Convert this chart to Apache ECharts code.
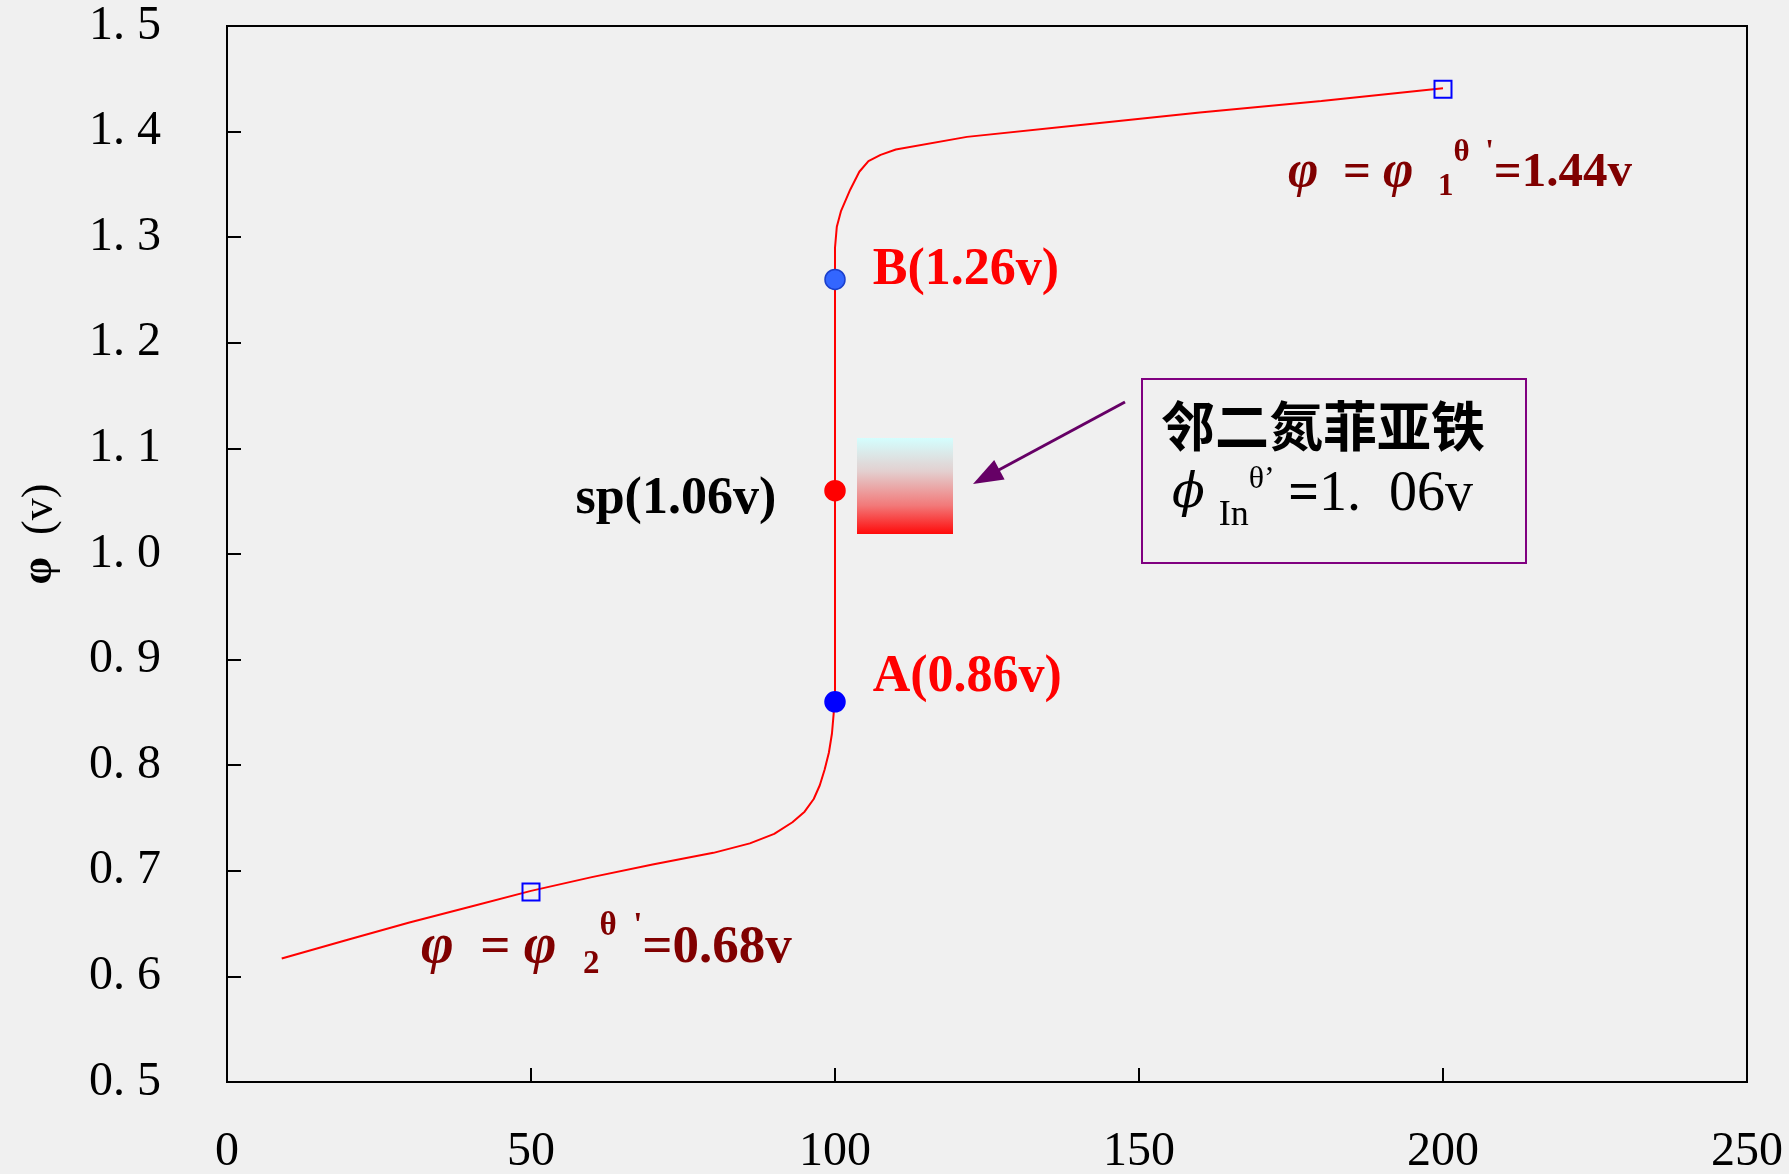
<!DOCTYPE html>
<html>
<head>
<meta charset="utf-8">
<script src="https://cdn.jsdelivr.net/npm/echarts@6/dist/echarts.min.js"></script>
<style>
html,body{margin:0;padding:0;background:#f0f0f0;}
#chart{width:1789px;height:1174px;}
</style>
</head>
<body>
<div id="chart"></div>
<script>
// ---- data ----
const curveX = [9, 20, 30, 40, 50, 60, 70, 80, 86, 90, 93, 95, 96.5, 97.5, 98.3, 99, 99.5, 99.8, 100, 100, 100.3, 101, 102.5, 104, 105.5, 107.5, 110, 121.7, 140, 160, 180, 200];
const curveY = [0.617, 0.635, 0.651, 0.666, 0.681, 0.694, 0.706, 0.717, 0.726, 0.735, 0.746, 0.756, 0.768, 0.781, 0.796, 0.812, 0.830, 0.850, 0.870, 1.290, 1.310, 1.325, 1.345, 1.362, 1.372, 1.378, 1.383, 1.395, 1.406, 1.418, 1.429, 1.441];
const refX = [50, 200];
const refY = [0.68, 1.44];
const keyX = [100, 100, 100];
const keyY = [0.86, 1.06, 1.26];
const keyLabels = ['A(0.86v)', 'sp(1.06v)', 'B(1.26v)'];
const xMin = 0, xMax = 250, xStep = 50;
const yMin = 0.5, yMax = 1.5, yStep = 0.1;

// ---- styles ----
const serif = 'Liberation Serif';
const keyStyles = [
  {color: '#0000ff', border: '#0000ff', pos: 'right', dist: 27, off: [0, -24], txt: '#ff0000'},
  {color: '#ff0000', border: '#ff0000', pos: 'left', dist: 48, off: [0, 9], txt: '#000000'},
  {color: '#3366ff', border: '#1a3fcc', pos: 'right', dist: 27, off: [0, -9], txt: '#ff0000'}
];

const chart = echarts.init(document.getElementById('chart'));

const curveData = curveX.map((x, i) => [x, curveY[i]]);
const refData = refX.map((x, i) => [x, refY[i]]);
const keyData = keyX.map((x, i) => ({
  value: [x, keyY[i]],
  name: keyLabels[i],
  itemStyle: {color: keyStyles[i].color, borderColor: keyStyles[i].border, borderWidth: 1.5, opacity: 1},
  label: {
    show: true,
    formatter: keyLabels[i],
    position: keyStyles[i].pos,
    distance: keyStyles[i].dist,
    offset: keyStyles[i].off,
    color: keyStyles[i].txt,
    opacity: 1,
    fontFamily: serif,
    fontWeight: 'bold',
    fontSize: 52
  }
}));

function mk(size, extra) {
  return Object.assign({fontFamily: serif, fontWeight: 'bold', fontSize: size, fill: '#800000'}, extra || {});
}

const option = {
  backgroundColor: '#f0f0f0',
  animation: false,
  grid: {
    left: 227, top: 26, right: 42, bottom: 92,
    containLabel: false, outerBoundsMode: 'none',
    show: true, borderColor: '#000', borderWidth: 2, backgroundColor: 'transparent'
  },
  xAxis: {
    type: 'value', min: xMin, max: xMax, interval: xStep,
    axisLine: {show: true, onZero: false, lineStyle: {color: '#000', width: 2}},
    axisTick: {show: true, inside: true, length: 14, lineStyle: {color: '#000', width: 2}},
    splitLine: {show: false},
    axisLabel: {color: '#000', fontFamily: serif, fontSize: 48, margin: 46, hideOverlap: false}
  },
  yAxis: {
    type: 'value', min: yMin, max: yMax, interval: yStep,
    name: '{p|φ}{n|  (v)}',
    nameLocation: 'middle',
    nameRotate: 90,
    nameGap: 165,
    nameTextStyle: {
      padding: [0, 0, 0, 40],
      rich: {
        p: {fontFamily: serif, fontWeight: 'bold', fontSize: 44, color: '#000'},
        n: {fontFamily: serif, fontSize: 44, color: '#000'}
      }
    },
    axisLine: {show: true, onZero: false, lineStyle: {color: '#000', width: 2}},
    axisTick: {show: true, inside: true, length: 14, lineStyle: {color: '#000', width: 2}},
    splitLine: {show: false},
    axisLabel: {
      color: '#000', fontFamily: serif, fontSize: 48, margin: 66, hideOverlap: false,
      formatter: v => v.toFixed(1).replace('.', '. ')
    }
  },
  series: [
    {
      type: 'line', data: curveData, showSymbol: false, smooth: false, z: 2,
      lineStyle: {color: '#ff0000', width: 2}
    },
    {
      type: 'scatter', data: refData, symbol: 'rect', symbolSize: 17, z: 3,
      itemStyle: {color: 'rgba(0,0,0,0)', borderColor: '#0000ff', borderWidth: 2, opacity: 1}
    },
    {
      type: 'scatter', data: keyData, symbol: 'circle', symbolSize: 20, z: 4,
      itemStyle: {opacity: 1}
    }
  ],
  graphic: [
    // annotation box
    {type: 'rect', shape: {x: 1142, y: 379, width: 384, height: 184}, style: {fill: 'none', stroke: '#800080', lineWidth: 2}, z: 10},
    {type: 'text', x: 1323, y: 426, style: {text: '邻二氮菲亚铁', fontFamily: 'Noto Sans CJK SC', fontWeight: 'bold', fontSize: 54, fill: '#000', align: 'center', verticalAlign: 'middle'}, z: 10},
    {type: 'text', x: 1172, y: 495, style: {
      text: '{f|ϕ}{m| }{s|In}{t|θ’}{e| =}{m|1.  06v}',
      align: 'left', verticalAlign: 'middle',
      rich: {
        f: {fontFamily: 'DejaVu Serif', fontStyle: 'italic', fontSize: 48, fill: '#000'},
        m: {fontFamily: serif, fontSize: 56, fill: '#000'},
        e: {fontFamily: serif, fontWeight: 'bold', fontSize: 54, fill: '#000'},
        s: {fontFamily: serif, fontSize: 36, fill: '#000', padding: [42, 0, 0, 0]},
        t: {fontFamily: serif, fontSize: 32, fill: '#000', padding: [0, 0, 30, 0]}
      }
    }, z: 10},
    // gradient indicator block
    {type: 'rect', shape: {x: 857, y: 438, width: 96, height: 96}, style: {
      fill: new echarts.graphic.LinearGradient(0, 0, 0, 1, [
        {offset: 0, color: '#d4fefe'},
        {offset: 0.35, color: '#e3cfcf'},
        {offset: 0.7, color: '#f27a7a'},
        {offset: 1, color: '#ff0a0a'}
      ])
    }, z: 10},
    // arrow
    {type: 'line', shape: {x1: 1125, y1: 402, x2: 995, y2: 472}, style: {stroke: '#660066', lineWidth: 3}, z: 10},
    {type: 'polygon', shape: {points: [[973, 484], [1004.6, 479.4], [994.2, 460.1]]}, style: {fill: '#660066'}, z: 10},
    // formula labels
    {type: 'text', x: 1288, y: 173, style: {
      text: '{p|φ}{m|  = }{p|φ}{m|  }{s|1}{t|θ  \'}{m|=1.44v}',
      align: 'left', verticalAlign: 'middle',
      rich: {
        p: mk(52, {fontStyle: 'italic'}),
        m: mk(49),
        s: mk(31, {padding: [28, 0, 0, 0]}),
        t: mk(31, {padding: [0, 0, 40, 0]})
      }
    }, z: 10},
    {type: 'text', x: 421, y: 948, style: {
      text: '{p|φ}{m|  = }{p|φ}{m|  }{s|2}{t|θ  \'}{m|=0.68v}',
      align: 'left', verticalAlign: 'middle',
      rich: {
        p: mk(56, {fontStyle: 'italic'}),
        m: mk(53),
        s: mk(33, {padding: [32, 0, 0, 0]}),
        t: mk(33, {padding: [0, 0, 44, 0]})
      }
    }, z: 10}
  ]
};

chart.setOption(option);
</script>
</body>
</html>
